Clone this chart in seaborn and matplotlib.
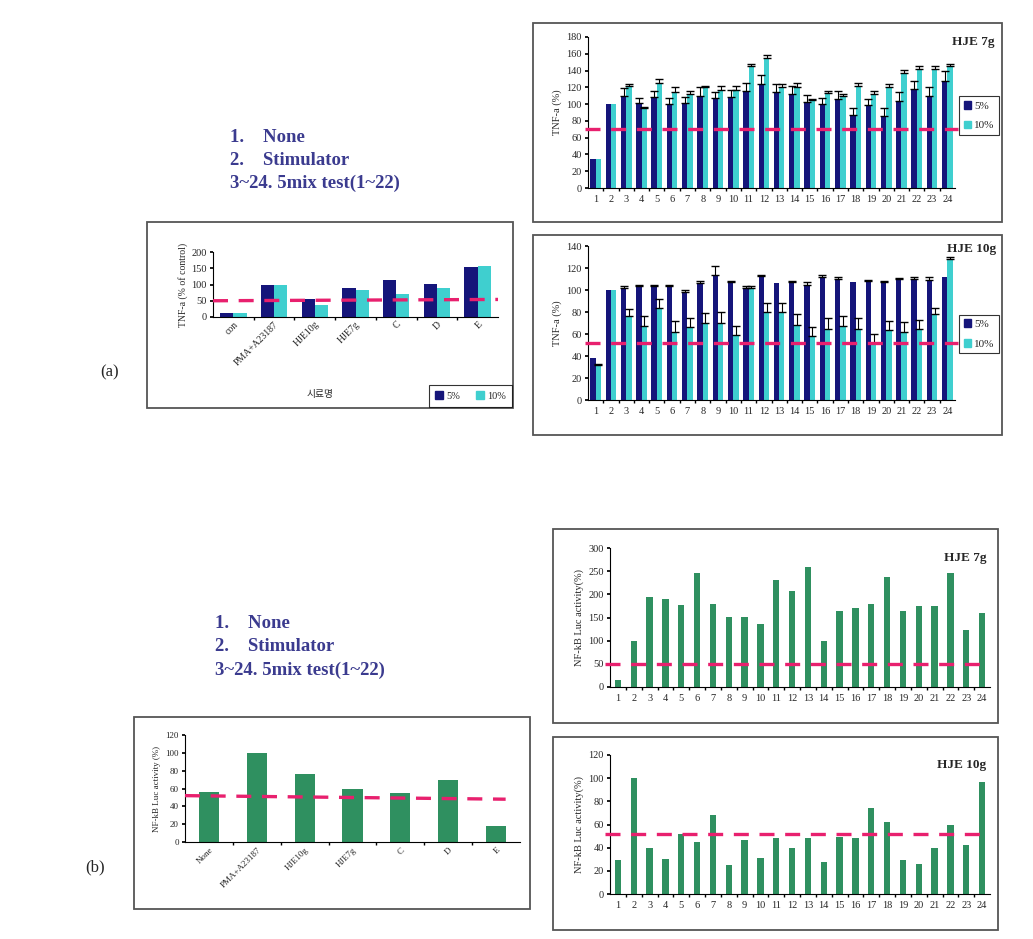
import numpy as np
import pandas as pd
import matplotlib
matplotlib.use("Agg")
import matplotlib.pyplot as plt
from matplotlib.patches import Rectangle
import seaborn as sns

# --- data ---
positions = [str(i) for i in range(1, 25)]
groups = ["5%", "10%"]

# (a) TNF-a, HJE 7g
tnf7_5 = [35, 100, 110, 101, 108, 100, 101, 110, 107, 109, 116, 124,
          115, 112, 103, 100, 106, 87, 99, 86, 104, 118, 110, 128]
tnf7_5_top = [35, 100, 119, 107, 116, 107, 109, 120, 115, 117, 125, 135,
              124, 121, 111, 107, 116, 95, 106, 95, 114, 128, 120, 140]
tnf7_10 = [34, 100, 122, 95, 125, 115, 112, 120, 117, 117, 145, 155,
           120, 120, 105, 113, 110, 122, 112, 120, 137, 142, 142, 145]
tnf7_10_top = [34, 100, 124, 96, 130, 120, 116, 122, 121, 121, 148, 158,
               124, 125, 106, 116, 112, 125, 116, 124, 141, 146, 146, 148]

# (a) TNF-a, HJE 10g
tnf10_5 = [38, 100, 102, 104, 104, 104, 98, 106, 114, 107, 102, 113,
           106, 107, 105, 112, 110, 107, 108, 107, 110, 110, 109, 112]
tnf10_5_top = [38, 100, 104, 105, 105, 105, 100, 108, 122, 108, 104, 114,
               106, 108, 107, 114, 112, 107, 109, 108, 111, 112, 112, 112]
tnf10_10 = [32, 100, 76, 67, 84, 62, 66, 70, 70, 59, 102, 80,
            80, 68, 58, 65, 67, 65, 52, 64, 62, 65, 78, 128]
tnf10_10_top = [33, 100, 83, 76, 92, 72, 75, 79, 80, 67, 104, 88,
                88, 78, 66, 75, 76, 75, 60, 72, 71, 73, 84, 130]

# (a) small summary chart
samples_a = ["con", "PMA+A23187", "HJE10g", "HJE7g", "C", "D", "E"]
summary_5 = [12, 100, 55, 90, 115, 102, 155]
summary_10 = [12, 98, 38, 83, 70, 90, 158]

# (b) NF-kB luciferase
nfkb7 = [15, 100, 195, 189, 178, 245, 179, 151, 151, 137, 230, 207,
         258, 100, 165, 170, 179, 237, 165, 174, 174, 247, 122, 160]
nfkb10 = [29, 100, 40, 30, 52, 45, 68, 25, 47, 31, 48, 40,
          48, 28, 49, 48, 74, 62, 29, 26, 40, 60, 42, 97]
samples_b = ["None", "PMA+A23187", "HJE10g", "HJE7g", "C", "D", "E"]
summary_b = [56, 100, 76, 60, 55, 70, 18]

# red cut-off lines
cut_tnf7 = 70
cut_tnf10 = 52
cut_summary_a = [50, 54]
cut_nfkb = 50
cut_nfkb10 = 52
cut_summary_b = [52, 48]

legend_items = ["1.    None", "2.    Stimulator", "3~24. 5mix test(1~22)"]

NAVY = "#15157a"
CYAN = "#3fcfcf"
GREEN = "#2f9060"
RED = "#e8206e"
TXT = "#3b3b8f"

sns.set_theme(style="white")
plt.rcParams["font.family"] = ["Liberation Serif", "Noto Sans CJK KR", "DejaVu Sans"]

W, H = 1033, 939
fig = plt.figure(figsize=(W / 100, H / 100), dpi=100)


def add_ax(x0, y0, x1, y1):
    return fig.add_axes([x0 / W, 1 - y1 / H, (x1 - x0) / W, (y1 - y0) / H])


def add_box(x0, y0, x1, y1):
    fig.patches.append(Rectangle((x0 / W, 1 - y1 / H), (x1 - x0) / W, (y1 - y0) / H,
                                 transform=fig.transFigure, fill=False,
                                 edgecolor="#555555", lw=1.3))


def style_ax(ax, n, fs=7.5):
    for s in ["top", "right"]:
        ax.spines[s].set_visible(False)
    for s in ["left", "bottom"]:
        ax.spines[s].set_color("black")
        ax.spines[s].set_linewidth(0.8)
    ax.set_xlim(-0.5, n - 0.5)
    ax.set_xticks(np.arange(n - 1) + 0.5, minor=True)
    ax.tick_params(axis="x", which="minor", length=2.5, color="black", direction="out", bottom=True)
    ax.tick_params(axis="x", which="major", length=0, labelsize=fs, pad=5)
    ax.tick_params(axis="y", length=2.5, color="black", direction="out", left=True, labelsize=fs, pad=2)
    ax.set_xlabel("")
    ax.grid(False)


def paired_bars(ax, v5, v10, top5, top10, width=0.7):
    df = pd.DataFrame({
        "pos": positions * 2,
        "grp": ["5%"] * len(v5) + ["10%"] * len(v10),
        "val": list(v5) + list(v10),
    })
    sns.barplot(data=df, x="pos", y="val", hue="grp", hue_order=groups,
                palette=[NAVY, CYAN], width=width, saturation=1, errorbar=None,
                linewidth=0, ax=ax, legend=False)
    tops = list(top5) + list(top10)
    for patch, top in zip(ax.patches, tops):
        xc = patch.get_x() + patch.get_width() / 2
        h = patch.get_height()
        if top > h:
            ax.errorbar(xc, h, yerr=[[0], [top - h]], fmt="none", ecolor="black",
                        elinewidth=0.8, capsize=2.8, capthick=1.0)


def legend_box(ax, anchor, fs=8):
    handles = [Rectangle((0, 0), 1, 1, color=NAVY), Rectangle((0, 0), 1, 1, color=CYAN)]
    leg = ax.legend(handles, groups, loc="center left", bbox_to_anchor=anchor,
                    frameon=True, fancybox=False, fontsize=fs, handlelength=0.6,
                    handleheight=0.7, handletextpad=0.3, borderpad=0.4,
                    borderaxespad=0, labelspacing=0.9)
    leg.get_frame().set_edgecolor("black")
    leg.get_frame().set_linewidth(0.8)
    return leg


dash = dict(color=RED, lw=2.4, linestyle=(0, (4.5, 3.2)), zorder=5)

# ---------------- (a) HJE 7g ----------------
add_box(533, 23, 1002, 222)
ax = add_ax(588, 37, 955, 188)
paired_bars(ax, tnf7_5, tnf7_10, tnf7_5_top, tnf7_10_top)
ax.set_ylim(0, 180)
ax.set_yticks(range(0, 181, 20))
style_ax(ax, 24)
ax.plot([-0.7, 23.7], [cut_tnf7, cut_tnf7], clip_on=False, **dash)
ax.set_ylabel("TNF-a (%)", fontsize=7.5, labelpad=3)
fig.text(995 / W, 1 - 42 / H, "HJE 7g", ha="right", va="center",
         fontsize=9.5, fontweight="bold")
legend_box(ax, (1.012, 0.48))

# ---------------- (a) HJE 10g ----------------
add_box(533, 235, 1002, 435)
ax = add_ax(588, 246, 955, 400)
paired_bars(ax, tnf10_5, tnf10_10, tnf10_5_top, tnf10_10_top)
ax.set_ylim(0, 140)
ax.set_yticks(range(0, 141, 20))
style_ax(ax, 24)
ax.plot([-0.7, 23.7], [cut_tnf10, cut_tnf10], clip_on=False, **dash)
ax.set_ylabel("TNF-a (%)", fontsize=7.5, labelpad=3)
fig.text(996 / W, 1 - 249 / H, "HJE 10g", ha="right", va="center",
         fontsize=9.5, fontweight="bold")
legend_box(ax, (1.012, 0.43))

# ---------------- (a) summary ----------------
add_box(147, 222, 513, 408)
ax = add_ax(213, 252, 498, 317)
df = pd.DataFrame({
    "sample": samples_a * 2,
    "grp": ["5%"] * len(samples_a) + ["10%"] * len(samples_a),
    "val": summary_5 + summary_10,
})
sns.barplot(data=df, x="sample", y="val", hue="grp", hue_order=groups,
            palette=[NAVY, CYAN], width=0.65, saturation=1, errorbar=None,
            linewidth=0, ax=ax, legend=False)
ax.set_ylim(0, 200)
ax.set_yticks(range(0, 201, 50))
style_ax(ax, len(samples_a), fs=7.5)
ax.set_xticks(range(len(samples_a)), samples_a, rotation=45, ha="right",
              rotation_mode="anchor", fontsize=7)
ax.tick_params(axis="x", which="major", pad=2)
ax.plot([-0.5, 6.5], cut_summary_a, **dash)
ax.set_ylabel("TNF-a (% of control)", fontsize=7, labelpad=2)
fig.text(320 / W, 1 - 394 / H, "시료명", fontsize=7, ha="center", va="center",
         family=["Noto Sans CJK KR", "DejaVu Sans"])
handles = [Rectangle((0, 0), 1, 1, color=NAVY), Rectangle((0, 0), 1, 1, color=CYAN)]
leg = fig.legend(handles, groups, loc="lower right", bbox_to_anchor=(513 / W, 1 - 408 / H),
                 ncol=2, frameon=True, fancybox=False, fontsize=7.5, handlelength=0.7,
                 handleheight=0.7, handletextpad=0.3, borderpad=0.6, columnspacing=1.6,
                 borderaxespad=0.1)
leg.get_frame().set_edgecolor("black")
leg.get_frame().set_linewidth(0.8)

fig.text(110 / W, 1 - 372 / H, "(a)", fontsize=12, ha="center", va="center")
for i, line in enumerate(legend_items):
    fig.text(230 / W, 1 - (138 + 22.5 * i) / H, line, fontsize=13.5, fontweight="bold",
             color=TXT, ha="left", va="center")

# ---------------- (b) HJE 7g ----------------
add_box(553, 529, 998, 723)
ax = add_ax(610, 548, 990, 687)
sns.barplot(x=positions, y=nfkb7, color=GREEN, width=0.4, saturation=1,
            linewidth=0, ax=ax)
ax.set_ylim(0, 300)
ax.set_yticks(range(0, 301, 50))
style_ax(ax, 24)
ax.plot([-0.8, 23.5], [cut_nfkb, cut_nfkb], clip_on=False, **dash)
ax.set_ylabel("NF-kB Luc activity(%)", fontsize=7.5, labelpad=3)
ax.text(0.99, 0.93, "HJE 7g", transform=ax.transAxes, ha="right", va="center",
        fontsize=9.5, fontweight="bold")

# ---------------- (b) HJE 10g ----------------
add_box(553, 737, 998, 930)
ax = add_ax(610, 755, 990, 894)
sns.barplot(x=positions, y=nfkb10, color=GREEN, width=0.4, saturation=1,
            linewidth=0, ax=ax)
ax.set_ylim(0, 120)
ax.set_yticks(range(0, 121, 20))
style_ax(ax, 24)
ax.plot([-0.8, 23.5], [cut_nfkb10, cut_nfkb10], clip_on=False, **dash)
ax.set_ylabel("NF-kB Luc activity(%)", fontsize=7.5, labelpad=3)
ax.text(0.99, 0.93, "HJE 10g", transform=ax.transAxes, ha="right", va="center",
        fontsize=9.5, fontweight="bold")

# ---------------- (b) summary ----------------
add_box(134, 717, 530, 909)
ax = add_ax(185, 735, 520, 842)
sns.barplot(x=samples_b, y=summary_b, color=GREEN, width=0.42, saturation=1,
            linewidth=0, ax=ax)
ax.set_ylim(0, 120)
ax.set_yticks(range(0, 121, 20))
style_ax(ax, len(samples_b), fs=6.5)
ax.set_xticks(range(len(samples_b)), samples_b, rotation=45, ha="right",
              rotation_mode="anchor", fontsize=6.5)
ax.tick_params(axis="x", which="major", pad=3)
ax.plot([-0.5, 6.2], cut_summary_b, **dash)
ax.set_ylabel("NF-kB Luc activity (%)", fontsize=6.5, labelpad=3)

fig.text(95 / W, 1 - 867 / H, "(b)", fontsize=12, ha="center", va="center")
for i, line in enumerate(legend_items):
    fig.text(215 / W, 1 - (623 + 23.5 * i) / H, line, fontsize=13.5, fontweight="bold",
             color=TXT, ha="left", va="center")

fig.savefig("out.png", dpi=100)
